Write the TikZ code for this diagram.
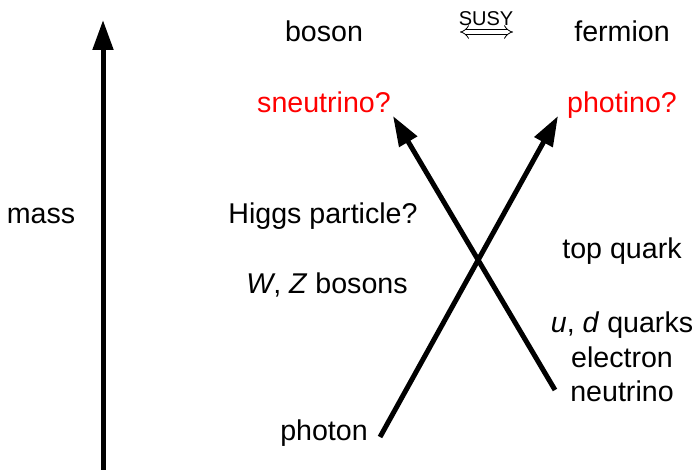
\documentclass[tikz,border=0pt]{standalone}
\usepackage{fontspec}
\setmainfont{Liberation Sans}
\usetikzlibrary{arrows.meta}

\begin{document}
\begin{tikzpicture}[x=0.5pt,y=-0.5pt,
  lbl/.style={anchor=base,inner sep=0pt,font=\fontsize{14.3}{17}\selectfont},
  hyp/.style={lbl,red},
  bigarrow/.style={line width=2.5pt,-{Triangle[length=15pt,width=10pt]}}]
\useasboundingbox (0,0) rectangle (700,470);

% vertical mass axis
\coordinate (massbot) at (103,470);
\coordinate (masstop) at (103,20);
\draw[bigarrow] (massbot) -- (masstop);
\node[lbl] (mass) at (41,223) {mass};

% column headings and supersymmetry
\node[lbl] (boson) at (324,42) {boson};
\node[lbl] (fermion) at (622,42) {fermion};
\node[inner sep=0pt,font=\fontsize{10}{12}\selectfont,anchor=base] (susy) at (486,26) {SUSY};
\coordinate (susyl) at (460,32);
\coordinate (susyr) at (513,32);
\draw[double,double distance=2pt,line width=0.4pt,{Implies}-{Implies}] (susyl) -- (susyr);

% partners
\node[hyp] (sneutrino) at (324,113) {sneutrino?};
\node[hyp] (photino) at (622,113) {photino?};

% bosons
\node[lbl] (higgs) at (323,223) {Higgs particle?};
\node[lbl] (wz) at (327,293) {\textit{W}, \textit{Z} bosons};
\node[lbl] (photon) at (324,440) {photon};

% fermions
\node[lbl] (top) at (622,258) {top quark};
\node[lbl] (ud) at (622,332) {\textit{u}, \textit{d} quarks};
\node[lbl] (electron) at (622,367) {electron};
\node[lbl] (neutrino) at (622,401) {neutrino};

% crossing arrows
\coordinate (photonend) at (380,437);
\coordinate (photinoend) at (558,116);
\coordinate (neutrinoend) at (555,390);
\coordinate (sneutrinoend) at (393,116);
\draw[bigarrow] (photonend) -- (photinoend);
\draw[bigarrow] (neutrinoend) -- (sneutrinoend);
\end{tikzpicture}
\end{document}
